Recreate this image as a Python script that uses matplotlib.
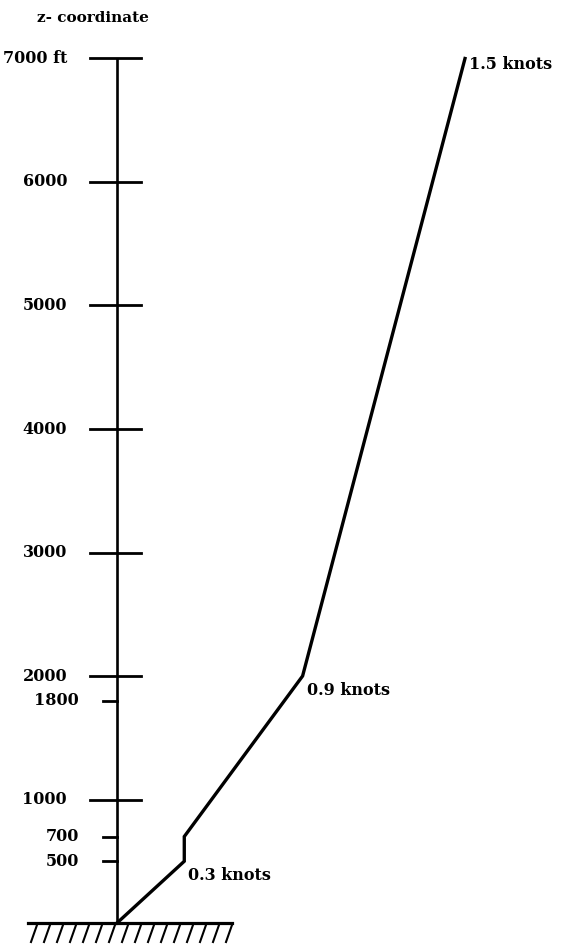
import numpy as np
import matplotlib
matplotlib.use("Agg")
import matplotlib.pyplot as plt

# z-coordinate ticks (ft)
major_ticks = [1000, 2000, 3000, 4000, 5000, 6000, 7000]
major_labels = ["1000", "2000", "3000", "4000", "5000", "6000", "7000 ft"]
minor_ticks = [500, 700, 1800]
minor_labels = ["500", "700", "1800"]

# current profile (speed in knots vs height in ft)
profile_v = [0.0, 0.29, 0.29, 0.80, 1.50]
profile_z = [0, 500, 700, 2000, 7000]
point_labels = ["0.3 knots", "0.9 knots", "1.5 knots"]
label_idx = [1, 3, 4]

W, H = 566, 946
x0, px_per_knot = 117, 232.0
y0, px_per_ft = 923, 0.1235

fig = plt.figure(figsize=(W / 100, H / 100), dpi=100)
ax = fig.add_axes([0, 0, 1, 1])
ax.set_xlim(-x0 / px_per_knot, (W - x0) / px_per_knot)
ax.set_ylim(-(H - y0) / px_per_ft, y0 / px_per_ft)
ax.axis("off")

font = dict(family="DejaVu Serif", weight="bold", color="black")
dx = 1 / px_per_knot  # one pixel in knots
dz = 1 / px_per_ft    # one pixel in ft

# vertical axis
ax.plot([0, 0], [0, 7000], color="black", lw=1.9, solid_capstyle="butt")
for z, lab in zip(major_ticks, major_labels):
    ax.plot([-27 * dx, 24 * dx], [z, z], color="black", lw=2.0)
    ax.text(-50 * dx, z, lab, ha="right", va="center", fontsize=11.5, **font)
for z, lab in zip(minor_ticks, minor_labels):
    ax.text(-38 * dx, z, lab, ha="right", va="center", fontsize=11.5, **font)
    ax.plot([-14 * dx, 0], [z, z], color="black", lw=2.0)

ax.text(-80 * dx, 7000 + 40 * dz, "z- coordinate", ha="left", va="center",
        fontsize=11, **font)

# profile
ax.plot(profile_v, profile_z, color="black", lw=2.4, solid_joinstyle="miter")
for i, lab in zip(label_idx, point_labels):
    off = -14 if i < 4 else -6
    ax.text(profile_v[i] + 4 * dx, profile_z[i] + off * dz, lab,
            ha="left", va="center", fontsize=11.5, **font)

# ground with hatching
ax.plot([-89 * dx, 115 * dx], [0, 0], color="black", lw=2.3)
for k in range(16):
    xs = -80 * dx + k * 13 * dx
    ax.plot([xs, xs - 6 * dx], [-2 * dz, -19 * dz], color="black", lw=1.5)

fig.savefig("out.png", dpi=100)
